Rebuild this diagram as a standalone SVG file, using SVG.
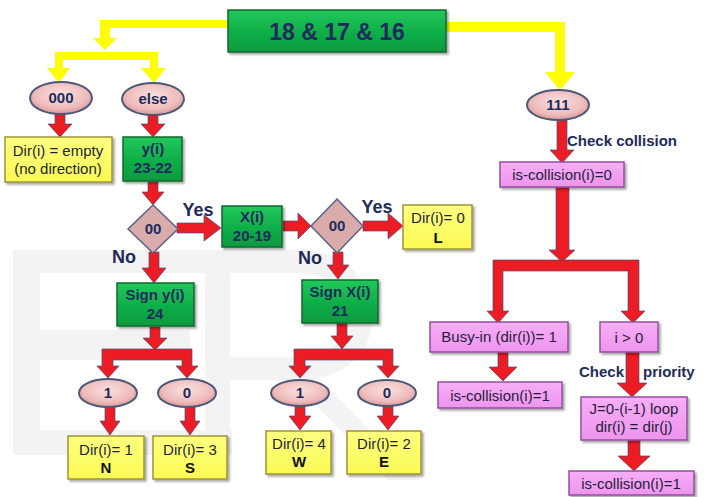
<svg xmlns="http://www.w3.org/2000/svg" width="709" height="497" viewBox="0 0 709 497">
<defs>
<filter id="sh" x="-20%" y="-20%" width="140%" height="150%"><feDropShadow dx="2" dy="2" stdDeviation="1" flood-color="#000" flood-opacity="0.35"/></filter>
<linearGradient id="gGreen" x1="0" y1="0" x2="0" y2="1"><stop offset="0" stop-color="#22c85a"/><stop offset="0.5" stop-color="#10b049"/><stop offset="1" stop-color="#0c9a3e"/></linearGradient>
<linearGradient id="gYel" x1="0" y1="0" x2="0" y2="1"><stop offset="0" stop-color="#ffff80"/><stop offset="1" stop-color="#fafa55"/></linearGradient>
<linearGradient id="gPink" x1="0" y1="0" x2="0" y2="1"><stop offset="0" stop-color="#f7aef7"/><stop offset="1" stop-color="#ee94ee"/></linearGradient>
<radialGradient id="gEll" cx="0.5" cy="0.4" r="0.6"><stop offset="0" stop-color="#fbe0e0"/><stop offset="0.7" stop-color="#efbcbc"/><stop offset="1" stop-color="#d89898"/></radialGradient>
<style>
.green{fill:url(#gGreen);stroke:#0a6a2c;stroke-width:1.5;filter:url(#sh)}
.yel{fill:url(#gYel);stroke:#a09238;stroke-width:1.5;filter:url(#sh)}
.pink{fill:url(#gPink);stroke:#93509a;stroke-width:1.5;filter:url(#sh)}
.ell{fill:url(#gEll);stroke:#4c5878;stroke-width:2}
.dia{fill:#d9abab;stroke:#5a6285;stroke-width:1.5}
.red{fill:#ec1c24;stroke:#4a4f78;stroke-width:0.7}
.yl{fill:#ffff00}
.wm{fill:#f3f3f3}
text{font-family:"Liberation Sans",Arial,sans-serif;text-anchor:middle}
.b{font-weight:bold;fill:#1e2b5c;font-size:15px}
.n{fill:#1f1f3a;font-size:15px}
.lbl{font-weight:bold;fill:#1e2b5c;font-size:18px}
.main{font-weight:bold;fill:#1e2b5c;font-size:23px}
.k{font-weight:bold;fill:#111;font-size:15px}
</style>
</defs>
<rect width="709" height="497" fill="#fff"/>
<g id="watermark">
<path class="wm" d="M13 250 H205 V273 H40 V330 H190 V360 H40 V430 H232 V455 H13 Z"/>
<path class="wm" d="M205 250 H300 C345 250 372 280 372 318 C372 350 350 372 318 378 L420 480 H388 L292 380 H230 V455 H205 Z M230 273 V357 H300 C330 357 345 340 345 315 C345 290 330 273 300 273 Z" fill-rule="evenodd"/>
</g>
<g id="connectors">
<path class="yl" d="M228 20 H100 V38 H93 L105 50 L117 38 H110 V28 H228 Z"/>
<path class="yl" d="M55 52 H158 V68 H166 L154 83 L141 68 H150 V60 H63 V68 H70 L59 83 L47 68 H55 Z"/>
<path class="yl" d="M447 22 H565 V72 H575 L560 90 L545 72 H555 V32 H447 Z"/>
<path class="red" d="M55 114 H65 V124 H72 L60 137 L48 124 H55 Z"/>
<path class="red" d="M148 114 H158 V124 H165 L153 137 L141 124 H148 Z"/>
<path class="red" d="M148 182 H158 V192 H164 L153 205 L142 192 H148 Z"/>
<path class="red" d="M177 223 V233 H204 V241 L221 228 L204 215 V223 Z"/>
<path class="red" d="M283 221 V231 H298 V239 L311 226 L298 213 V221 Z"/>
<path class="red" d="M363 221 V231 H388 V239 L403 226 L388 213 V221 Z"/>
<path class="red" d="M149 252 H159 V268 H166 L154 283 L142 268 H149 Z"/>
<path class="red" d="M333 252 H343 V265 H349 L338 279 L327 265 H333 Z"/>
<path class="red" d="M150 327 H160 V338 H167 L155 350 L143 338 H150 Z"/>
<path class="red" d="M102 349 H192 V366 H198 L187 378 L176 366 H182 V360 H113 V366 H119 L108 378 L97 366 H102 Z"/>
<path class="red" d="M105 407 H115 V421 H120 L110 435 L100 421 H105 Z"/>
<path class="red" d="M185 407 H195 V421 H200 L190 435 L180 421 H185 Z"/>
<path class="red" d="M337 323 H347 V336 H353 L342 349 L331 336 H337 Z"/>
<path class="red" d="M294 349 H393 V366 H399 L388 378 L377 366 H383 V360 H305 V366 H311 L300 378 L289 366 H294 Z"/>
<path class="red" d="M295 406 H305 V416 H311 L300 430 L289 416 H295 Z"/>
<path class="red" d="M383 406 H393 V416 H399 L388 430 L377 416 H383 Z"/>
<path class="red" d="M557 120 H567 V150 H574 L562 163 L550 150 H557 Z"/>
<path class="red" d="M556 187 H569 V250 H575 L562 262 L549 250 H556 Z"/>
<path class="red" d="M493 260 H639 V311 H645 L633 323 L621 311 H628 V271 H503 V311 H509 L498 323 L487 311 H493 Z"/>
<path class="red" d="M498 352 H508 V367 H517 L503 381 L489 367 H498 Z"/>
<path class="red" d="M626 352 H639 V383 H647 L632 397 L617 383 H626 Z"/>
<path class="red" d="M628 440 H640 V456 H650 L634 471 L618 456 H628 Z"/>
<text class="lbl" x="198" y="216">Yes</text>
<text class="lbl" x="377" y="213">Yes</text>
<text class="lbl" x="124" y="263">No</text>
<text class="lbl" x="310" y="264">No</text>
<text class="b" x="567" y="146" style="text-anchor:start">Check collision</text>
<text class="b" x="624" y="377" style="text-anchor:end">Check</text>
<text class="b" x="643" y="377" style="text-anchor:start">priority</text>
</g>
<g id="n-main"><rect class="green" x="228" y="10" width="218" height="42"/><text class="main" x="337" y="40">18 &amp; 17 &amp; 16</text></g>
<g id="n-000"><ellipse class="ell" cx="61" cy="98" rx="31" ry="16"/><text class="b" x="61" y="103">000</text></g>
<g id="n-else"><ellipse class="ell" cx="153" cy="99" rx="31" ry="16"/><text class="b" x="153" y="104">else</text></g>
<g id="n-111"><ellipse class="ell" cx="558" cy="105" rx="31" ry="15"/><text class="b" x="558" y="110">111</text></g>
<g id="n-empty"><rect class="yel" x="5" y="137" width="107" height="45"/><text class="n" x="58" y="156">Dir(i) = empty</text><text class="n" x="58" y="174">(no direction)</text></g>
<g id="n-yi"><rect class="green" x="123" y="137" width="59" height="44"/><text class="b" x="153" y="154">y(i)</text><text class="b" x="153" y="173">23-22</text></g>
<g id="n-d1"><polygon class="dia" points="153,205 178,229 153,253 128,229"/><text class="b" x="153" y="234">00</text></g>
<g id="n-xi"><rect class="green" x="222" y="206" width="60" height="41"/><text class="b" x="252" y="222">X(i)</text><text class="b" x="252" y="241">20-19</text></g>
<g id="n-d2"><polygon class="dia" points="337,199 363,226 337,253 311,226"/><text class="b" x="337" y="231">00</text></g>
<g id="n-L"><rect class="yel" x="403" y="205" width="69" height="44"/><text class="n" x="438" y="223">Dir(i)= 0</text><text class="k" x="438" y="243">L</text></g>
<g id="n-signy"><rect class="green" x="117" y="283" width="77" height="43"/><text class="b" x="155" y="300">Sign y(i)</text><text class="b" x="155" y="319">24</text></g>
<g id="n-signx"><rect class="green" x="302" y="280" width="76" height="43"/><text class="b" x="340" y="297">Sign X(i)</text><text class="b" x="340" y="316">21</text></g>
<g id="n-e1"><ellipse class="ell" cx="108" cy="393" rx="29" ry="14"/><text class="b" x="108" y="398">1</text></g>
<g id="n-e0"><ellipse class="ell" cx="187" cy="393" rx="29" ry="14"/><text class="b" x="187" y="398">0</text></g>
<g id="n-e1b"><ellipse class="ell" cx="300" cy="393" rx="29" ry="13"/><text class="b" x="300" y="398">1</text></g>
<g id="n-e0b"><ellipse class="ell" cx="387" cy="393" rx="29" ry="13"/><text class="b" x="387" y="398">0</text></g>
<g id="n-N"><rect class="yel" x="68" y="436" width="76" height="43"/><text class="n" x="106" y="455">Dir(i)= 1</text><text class="k" x="106" y="473">N</text></g>
<g id="n-S"><rect class="yel" x="153" y="436" width="74" height="43"/><text class="n" x="190" y="455">Dir(i)= 3</text><text class="k" x="190" y="473">S</text></g>
<g id="n-W"><rect class="yel" x="266" y="431" width="65" height="43"/><text class="n" x="299" y="449">Dir(i)= 4</text><text class="k" x="299" y="467">W</text></g>
<g id="n-E"><rect class="yel" x="347" y="431" width="74" height="43"/><text class="n" x="384" y="449">Dir(i)= 2</text><text class="k" x="384" y="467">E</text></g>
<g id="n-col0"><rect class="pink" x="500" y="162" width="124" height="25"/><text class="n" x="562" y="180">is-collision(i)=0</text></g>
<g id="n-busy"><rect class="pink" x="430" y="322" width="138" height="30"/><text class="n" x="499" y="342">Busy-in (dir(i))= 1</text></g>
<g id="n-igt"><rect class="pink" x="600" y="322" width="58" height="30"/><text class="n" x="629" y="343">i &gt; 0</text></g>
<g id="n-col1"><rect class="pink" x="438" y="382" width="124" height="26"/><text class="n" x="500" y="401">is-collision(i)=1</text></g>
<g id="n-loop"><rect class="pink" x="581" y="397" width="106" height="43"/><text class="n" x="634" y="414">J=0-(i-1) loop</text><text class="n" x="634" y="432">dir(i) = dir(j)</text></g>
<g id="n-col2"><rect class="pink" x="569" y="471" width="125" height="24"/><text class="n" x="631" y="489">is-collision(i)=1</text></g>
</svg>
